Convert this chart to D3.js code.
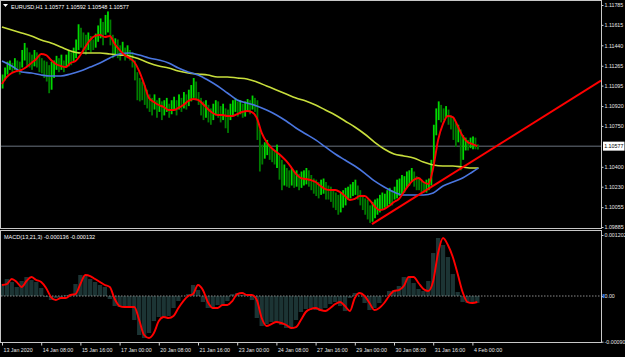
<!DOCTYPE html>
<html>
<head>
<meta charset="utf-8">
<script src="https://cdn.jsdelivr.net/npm/d3@7"></script>
<style>
  html, body { margin: 0; padding: 0; background: #000; }
  #chart { width: 625px; height: 357px; }
  text { font-family: "Liberation Sans", Arial, sans-serif; }
</style>
</head>
<body>
<div id="chart"></div>
<script>
// EURUSD H1, one entry per 2 hourly bars (high / low)
const highs = [
  1.1119,1.1125,1.1130,1.1131,1.1129,1.1133,1.1131,1.1130,1.1140,1.1146,
  1.1142,1.1138,1.1136,1.1140,1.1138,1.1136,1.1133,1.1131,1.1130,1.1127,
  1.1130,1.1131,1.1135,1.1133,1.1136,1.1131,1.1136,1.1140,1.1138,1.1142,
  1.1149,1.1162,1.1159,1.1155,1.1153,1.1155,1.1152,1.1149,1.1154,1.1161,
  1.1167,1.1164,1.1170,1.1173,1.1166,1.1153,1.1150,1.1149,1.1144,1.1147,
  1.1142,1.1144,1.1140,1.1138,1.1131,1.1121,1.1116,1.1113,1.1110,1.1106,
  1.1102,1.1099,1.1102,1.1097,1.1099,1.1096,1.1097,1.1099,1.1094,1.1097,
  1.1100,1.1097,1.1102,1.1099,1.1104,1.1102,1.1106,1.1110,1.1116,1.1113,
  1.1104,1.1099,1.1096,1.1097,1.1093,1.1090,1.1094,1.1097,1.1096,1.1092,
  1.1094,1.1090,1.1089,1.1094,1.1097,1.1099,1.1096,1.1097,1.1094,1.1096,
  1.1098,1.1097,1.1101,1.1099,1.1097,1.1072,1.1059,1.1061,1.1063,1.1059,
  1.1056,1.1054,1.1059,1.1050,1.1046,1.1042,1.1039,1.1037,1.1039,1.1036,
  1.1037,1.1034,1.1036,1.1037,1.1039,1.1037,1.1033,1.1030,1.1029,1.1027,
  1.1029,1.1030,1.1027,1.1024,1.1023,1.1020,1.1018,1.1016,1.1018,1.1020,
  1.1022,1.1023,1.1025,1.1027,1.1029,1.1024,1.1020,1.1016,1.1013,1.1012,
  1.1007,1.1010,1.1012,1.1013,1.1016,1.1018,1.1017,1.1020,1.1022,1.1020,
  1.1023,1.1029,1.1030,1.1033,1.1032,1.1036,1.1037,1.1039,1.1036,1.1032,
  1.1030,1.1029,1.1027,1.1029,1.1030,1.1046,1.1076,1.1090,1.1096,1.1093,
  1.1090,1.1092,1.1089,1.1084,1.1082,1.1078,1.1076,1.1072,1.1067,1.1065,
  1.1063,1.1065,1.1066,1.1065,1.10592
];
const lows = [
  1.1107,1.1114,1.1119,1.1123,1.1121,1.1123,1.1121,1.1119,1.1125,1.1131,
  1.1126,1.1125,1.1123,1.1126,1.1125,1.1121,1.1120,1.1116,1.1113,1.1103,
  1.1106,1.1116,1.1123,1.1121,1.1123,1.1121,1.1125,1.1126,1.1127,1.1130,
  1.1133,1.1140,1.1142,1.1138,1.1136,1.1140,1.1138,1.1140,1.1142,1.1147,
  1.1150,1.1144,1.1153,1.1155,1.1144,1.1133,1.1136,1.1133,1.1131,1.1135,
  1.1131,1.1133,1.1131,1.1125,1.1114,1.1097,1.1096,1.1097,1.1093,1.1090,
  1.1087,1.1084,1.1089,1.1082,1.1087,1.1080,1.1084,1.1087,1.1082,1.1085,
  1.1089,1.1084,1.1089,1.1087,1.1090,1.1089,1.1092,1.1096,1.1099,1.1097,
  1.1093,1.1084,1.1080,1.1082,1.1078,1.1076,1.1080,1.1084,1.1082,1.1078,
  1.1080,1.1073,1.1069,1.1080,1.1084,1.1087,1.1083,1.1085,1.1082,1.1083,
  1.1087,1.1085,1.1089,1.1087,1.1063,1.1036,1.1042,1.1047,1.1050,1.1046,
  1.1044,1.1042,1.1039,1.1029,1.1020,1.1024,1.1023,1.1022,1.1024,1.1022,
  1.1023,1.1020,1.1022,1.1024,1.1025,1.1023,1.1020,1.1017,1.1015,1.1013,
  1.1016,1.1017,1.1012,1.1012,1.1010,1.1005,1.1003,1.0999,1.1001,1.1005,
  1.1007,1.1012,1.1013,1.1015,1.1016,1.1012,1.1007,1.1003,1.0999,1.0995,
  1.0992,1.0993,1.0996,1.0999,1.1001,1.1003,1.1005,1.1006,1.1008,1.1007,
  1.1012,1.1013,1.1015,1.1016,1.1018,1.1022,1.1024,1.1027,1.1023,1.1020,
  1.1020,1.1018,1.1018,1.1018,1.1020,1.1024,1.1042,1.1067,1.1080,1.1078,
  1.1080,1.1082,1.1076,1.1072,1.1063,1.1057,1.1061,1.1037,1.1046,1.1054,
  1.1054,1.1056,1.1055,1.1055,1.10548
];

// fast MA (red), one value every 4 bars
const maFast = [
  1.11109,1.11169,1.11203,1.11220,1.11229,1.11254,1.11289,1.11323,1.11366,1.11357,
  1.11314,1.11280,1.11263,1.11254,1.11289,1.11306,1.11357,1.11426,1.11486,1.11520,
  1.11528,1.11511,1.11520,1.11451,1.11400,1.11357,1.11332,1.11297,1.11220,1.11109,
  1.10989,1.10955,1.10929,1.10912,1.10886,1.10886,1.10904,1.10929,1.10963,1.10981,
  1.10972,1.10938,1.10895,1.10861,1.10844,1.10844,1.10835,1.10835,1.10852,1.10869,
  1.10878,1.10869,1.10818,1.10690,1.10612,1.10561,1.10527,1.10493,1.10450,1.10398,
  1.10339,1.10304,1.10296,1.10287,1.10270,1.10236,1.10210,1.10202,1.10202,1.10184,
  1.10150,1.10116,1.10125,1.10150,1.10150,1.10116,1.10065,1.10030,1.10039,1.10065,
  1.10099,1.10125,1.10184,1.10244,1.10287,1.10304,1.10270,1.10253,1.10390,1.10630,
  1.10767,1.10835,1.10826,1.10749,1.10664,1.10612,1.10595,1.10578
];
// slow MAs (blue, yellow), one value every 8 bars, last one on the last bar
const maMid = [
  1.11306,1.11263,1.11212,1.11203,1.11186,1.11177,1.11177,1.11195,1.11220,1.11254,
  1.11289,1.11332,1.11366,1.11374,1.11357,1.11332,1.11314,1.11289,1.11246,1.11212,
  1.11186,1.11143,1.11092,1.11032,1.10972,1.10946,1.10921,1.10886,1.10844,1.10792,
  1.10732,1.10681,1.10630,1.10570,1.10510,1.10458,1.10407,1.10347,1.10279,1.10227,
  1.10184,1.10159,1.10159,1.10159,1.10176,1.10236,1.10270,1.10304,1.10356,1.10390
];
const maSlow = [
  1.11597,1.11571,1.11546,1.11520,1.11486,1.11460,1.11426,1.11391,1.11374,1.11374,
  1.11374,1.11366,1.11357,1.11349,1.11323,1.11289,1.11263,1.11246,1.11220,1.11203,
  1.11194,1.11186,1.11169,1.11169,1.11160,1.11152,1.11126,1.11092,1.11058,1.11023,
  1.10989,1.10963,1.10929,1.10886,1.10844,1.10792,1.10741,1.10681,1.10612,1.10553,
  1.10510,1.10493,1.10476,1.10441,1.10416,1.10407,1.10407,1.10398,1.10390,1.10390
];

// MACD(13,21,3), one value every 4 bars
const macdSignal = [
  0.000217,0.000236,0.000335,0.000276,0.000177,0.000296,0.000374,0.000315,0.000276,0.000158,
  -0.000020,-0.000079,-0.000039,-0.000039,0.000020,0.000039,0.000236,0.000414,0.000394,0.000335,
  0.000276,0.000217,0.000177,-0.000059,-0.000197,-0.000217,-0.000217,-0.000217,-0.000473,-0.000768,
  -0.000827,-0.000729,-0.000493,-0.000414,-0.000433,-0.000394,-0.000236,-0.000099,0.000000,0.000039,
  0.000217,0.000118,-0.000118,-0.000236,-0.000236,-0.000177,-0.000177,-0.000099,0.000039,0.000059,
  0.000020,0.000020,-0.000079,-0.000433,-0.000591,-0.000552,-0.000512,-0.000532,-0.000571,-0.000630,
  -0.000611,-0.000473,-0.000315,-0.000256,-0.000236,-0.000276,-0.000296,-0.000236,-0.000158,-0.000118,
  -0.000197,-0.000296,-0.000039,0.000059,0.000000,-0.000138,-0.000276,-0.000236,-0.000138,0.000000,
  0.000099,0.000118,0.000197,0.000374,0.000374,0.000256,0.000138,0.000099,0.000296,0.000847,
  0.001143,0.001005,0.000768,0.000433,0.000079,-0.000118,-0.000138,-0.000118
];
const macdMain = macdSignal.slice(1).concat([-0.000136]);

// trend line anchors (bar index, price)
const trendBars = [302, 420];
const trendPrices = [1.0991, 1.10685];

const lastPrice = 1.10577;
const priceTicks = [1.11785, 1.11615, 1.11440, 1.11265, 1.11095, 1.10920, 1.10750,
                    1.10400, 1.10230, 1.10055, 1.09885];
const macdTicks = [0.001202, 0, -0.0009];
const macdTickLabels = ["0.001202", "0.00", "-0.000900"];
const timeTickBars = [0, 32, 64, 96, 128, 160, 192, 224, 256, 288, 320, 352, 384];
const timeLabels = ["13 Jan 2020", "14 Jan 08:00", "15 Jan 16:00", "17 Jan 00:00",
  "20 Jan 08:00", "21 Jan 16:00", "23 Jan 00:00", "24 Jan 08:00", "27 Jan 16:00",
  "29 Jan 00:00", "30 Jan 08:00", "31 Jan 16:00", "4 Feb 00:00"];
const lastBar = 389;

const W = 625, H = 357;
const left = 1, right = 601;
const mainTop = 1, mainBottom = 228;
const macdTop = 231, macdBottom = 342;
const fontSize = 6;
const scaleFont = 5.3;

const svg = d3.select('#chart').append('svg')
    .attr('width', W).attr('height', H)
    .style('display', 'block');

svg.append('rect').attr('width', W).attr('height', H).attr('fill', '#000');

const x = d3.scaleLinear().domain([0, 384]).range([2, 472.4]);
const y = d3.scaleLinear().domain([1.09885, 1.11785]).range([227, 5]);
const yMacd = d3.scaleLinear().domain([-0.0009, 0.001202]).range([341.7, 235]);

// narrow the terminal font a bit, like the original
function squeeze(sel, f) {
    sel.each(function() {
        const w = this.getComputedTextLength();
        d3.select(this).attr('textLength', w * f).attr('lengthAdjust', 'spacingAndGlyphs');
    });
}

const defs = svg.append('defs');
defs.append('clipPath').attr('id', 'clipMain').append('rect')
    .attr('x', left).attr('y', mainTop).attr('width', right - left).attr('height', mainBottom - mainTop);
defs.append('clipPath').attr('id', 'clipMacd').append('rect')
    .attr('x', left).attr('y', macdTop).attr('width', right - left).attr('height', macdBottom - macdTop);

const main = svg.append('g').attr('clip-path', 'url(#clipMain)');
const sub = svg.append('g').attr('clip-path', 'url(#clipMacd)');

// current price line
main.append('line')
    .attr('x1', left).attr('x2', right)
    .attr('y1', y(lastPrice)).attr('y2', y(lastPrice))
    .attr('stroke', '#474d55').attr('stroke-width', 1.5);

// bars
const bars = highs.map((h, i) => ({ i: i, hi: h, lo: lows[i] }));
main.selectAll('rect.bar')
    .data(bars)
    .enter()
    .append('rect')
    .attr('class', 'bar')
    .attr('x', d => x(2 * d.i + 0.5) - 0.9)
    .attr('width', 1.8)
    .attr('y', d => y(d.hi))
    .attr('height', d => Math.max(1, y(d.lo) - y(d.hi)))
    .attr('fill', (d, i) => {
        if (i === 0) return '#00d000';
        const prev = (bars[i - 1].hi + bars[i - 1].lo) / 2;
        return (d.hi + d.lo) / 2 >= prev ? '#00d800' : '#007d00';
    });

// moving averages
const slowIdx = maSlow.map((v, k) => k < maSlow.length - 1 ? k * 8 : lastBar);
const line = d3.line().curve(d3.curveMonotoneX);

main.append('path')
    .attr('d', line(maSlow.map((v, k) => [x(slowIdx[k]), y(v)])))
    .attr('fill', 'none').attr('stroke', '#c8de3c').attr('stroke-width', 1.6);

main.append('path')
    .attr('d', line(maMid.map((v, k) => [x(slowIdx[k]), y(v)])))
    .attr('fill', 'none').attr('stroke', '#4a76e0').attr('stroke-width', 1.6);

main.append('path')
    .attr('d', line(maFast.map((v, k) => [x(k * 4), y(v)])))
    .attr('fill', 'none').attr('stroke', '#ff0000').attr('stroke-width', 1.9);

// trend line, extended as a ray to the right edge
const tx0 = x(trendBars[0]), ty0 = y(trendPrices[0]);
const tx1 = x(trendBars[1]), ty1 = y(trendPrices[1]);
const slope = (ty1 - ty0) / (tx1 - tx0);
main.append('line')
    .attr('x1', tx0).attr('y1', ty0)
    .attr('x2', right).attr('y2', ty0 + slope * (right - tx0))
    .attr('stroke', '#ff0000').attr('stroke-width', 2);

// MACD histogram + signal
const barW = x(4) - x(0);
sub.selectAll('rect.hist')
    .data(macdMain)
    .enter()
    .append('rect')
    .attr('class', 'hist')
    .attr('x', (d, k) => x(k * 4) - barW / 2 + 0.3)
    .attr('width', barW - 0.6)
    .attr('y', d => Math.min(yMacd(d), yMacd(0)))
    .attr('height', d => Math.abs(yMacd(d) - yMacd(0)))
    .attr('fill', '#1c3434');

sub.append('line')
    .attr('x1', left).attr('x2', right)
    .attr('y1', yMacd(0)).attr('y2', yMacd(0))
    .attr('stroke', '#8a8a8a').attr('stroke-width', 1)
    .attr('stroke-dasharray', '1.5,1.5');

sub.append('path')
    .attr('d', line(macdSignal.map((v, k) => [x(k * 4), yMacd(v)])))
    .attr('fill', 'none').attr('stroke', '#ff0000').attr('stroke-width', 1.9);

// frames
const frame = svg.append('g').attr('stroke', '#c8c8c8').attr('stroke-width', 1).attr('fill', 'none');
frame.append('rect').attr('x', left - 0.5).attr('y', mainTop - 0.5)
    .attr('width', right - left + 1).attr('height', mainBottom - mainTop + 1);
frame.append('rect').attr('x', left - 0.5).attr('y', macdTop - 0.5)
    .attr('width', right - left + 1).attr('height', macdBottom - macdTop + 1);

// axes
function styleAxis(g, size) {
    g.select('.domain').remove();
    g.selectAll('.tick line').attr('stroke', '#d0d0d0');
    g.selectAll('.tick text')
        .attr('fill', '#e6e6e6')
        .style('font-size', size + 'px');
}

svg.append('g')
    .attr('transform', `translate(${right + 0.5},0)`)
    .call(d3.axisRight(y).tickValues(priceTicks).tickFormat(d3.format('.5f')).tickSize(2).tickPadding(1))
    .call(styleAxis, scaleFont);

svg.append('g')
    .attr('transform', `translate(${right + 0.5},0)`)
    .call(d3.axisRight(yMacd).tickValues(macdTicks)
        .tickFormat((d, i) => macdTickLabels[i]).tickSize(2).tickPadding(1))
    .call(styleAxis, scaleFont);

svg.append('g')
    .attr('transform', `translate(0,${macdBottom + 0.5})`)
    .call(d3.axisBottom(x).tickValues(timeTickBars)
        .tickFormat((d, i) => timeLabels[i]).tickSize(3).tickPadding(2))
    .call(styleAxis, fontSize)
    .selectAll('.tick text')
    .attr('text-anchor', 'start')
    .attr('dx', 1)
    .call(squeeze, 0.88);

// zero marker on MACD scale
svg.append('rect')
    .attr('x', right + 1.5).attr('y', yMacd(0) - 2)
    .attr('width', 2).attr('height', 4)
    .attr('fill', '#2f6fd8');

// last price label
const lp = svg.append('g').attr('transform', `translate(${right + 2},${y(lastPrice)})`);
lp.append('rect').attr('x', 0).attr('y', -4.5).attr('width', 21.5).attr('height', 9).attr('fill', '#fff');
lp.append('text').attr('x', 1.2).attr('y', 2)
    .attr('fill', '#000').style('font-size', scaleFont + 'px')
    .text(d3.format('.5f')(lastPrice));

// titles
svg.append('path')
    .attr('d', 'M3,4 L8,4 L5.5,7 Z')
    .attr('fill', '#fff');
svg.append('text')
    .attr('x', 11).attr('y', 8.5)
    .attr('fill', '#ffffff').style('font-size', fontSize + 'px')
    .text('EURUSD,H1  1.10577 1.10592 1.10548 1.10577')
    .call(squeeze, 0.92);
svg.append('text')
    .attr('x', 4).attr('y', 239)
    .attr('fill', '#ffffff').style('font-size', fontSize + 'px')
    .text('MACD(13,21,3) -0.000136 -0.000132')
    .call(squeeze, 0.92);
</script>
</body>
</html>
